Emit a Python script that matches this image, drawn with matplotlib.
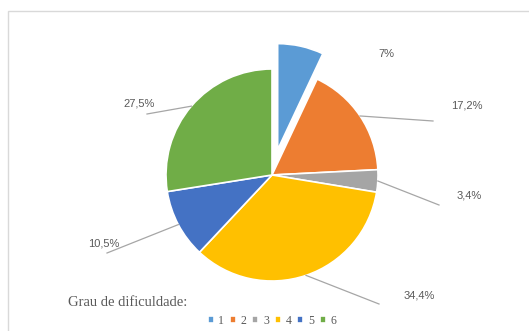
import numpy as np
import matplotlib.pyplot as plt
from matplotlib.patches import Rectangle

# difficulty grades and their share of answers (%)
grades = ["1", "2", "3", "4", "5", "6"]
shares = [7.0, 17.2, 3.4, 34.4, 10.5, 27.5]
colors = ["#5B9BD5", "#ED7D31", "#A5A5A5", "#FFC000", "#4472C4", "#70AD47"]

W, H = 529, 331
cx, cy, r = 272, H - 175, 106

# label text centres and leader-line ends (pixel coords, y down)
label_xy = [(386, 54), (467, 106), (469, 195), (419, 295), (104, 243), (139, 104)]
leader_end = [None, (433, 121), (439, 205), (379, 304), (107, 253), (147, 114)]

fig = plt.figure(figsize=(W / 100, H / 100), dpi=100)
ax = fig.add_axes([0, 0, 1, 1])

wedges, _ = ax.pie(shares, colors=colors, startangle=90, counterclock=False,
                   center=(cx, cy), radius=r,
                   explode=[26, 0, 0, 0, 0, 0],
                   wedgeprops=dict(edgecolor="white", linewidth=1.2))
ax.set_xlim(0, W)
ax.set_ylim(0, H)
ax.set_aspect("equal")
ax.axis("off")

# chart area border
ax.add_patch(Rectangle((8, -10), W + 20, H - 11 + 10, fill=False,
                       edgecolor="#d9d9d9", linewidth=1.0))

start = 90.0
for i, v in enumerate(shares):
    mid = np.deg2rad(start - v * 3.6 / 2)
    start -= v * 3.6
    txt = ("%g%%" % v).replace(".", ",")
    tx, ty = label_xy[i]
    ax.text(tx, H - ty, txt, ha="center", va="center", fontsize=8,
            color="#595959", family="Liberation Sans")
    if leader_end[i] is not None:
        x0 = cx + r * np.cos(mid)
        y0 = cy + r * np.sin(mid)
        ex, ey = leader_end[i]
        ax.plot([x0, ex], [y0, H - ey], color="#a6a6a6", linewidth=0.9)

ax.text(68, H - 303, "Grau de dificuldade:", ha="left", va="center",
        fontsize=10.5, color="#595959", family="Liberation Serif")

ax.legend(wedges, grades, loc="center", bbox_to_anchor=(272 / W, 1 - 321 / H),
          ncol=6, frameon=False, handlelength=0.5, handleheight=0.5,
          handletextpad=0.4, columnspacing=0.5, borderpad=0,
          prop=dict(family="Liberation Serif", size=8.5), labelcolor="#595959")

fig.savefig("out.png", dpi=100)
